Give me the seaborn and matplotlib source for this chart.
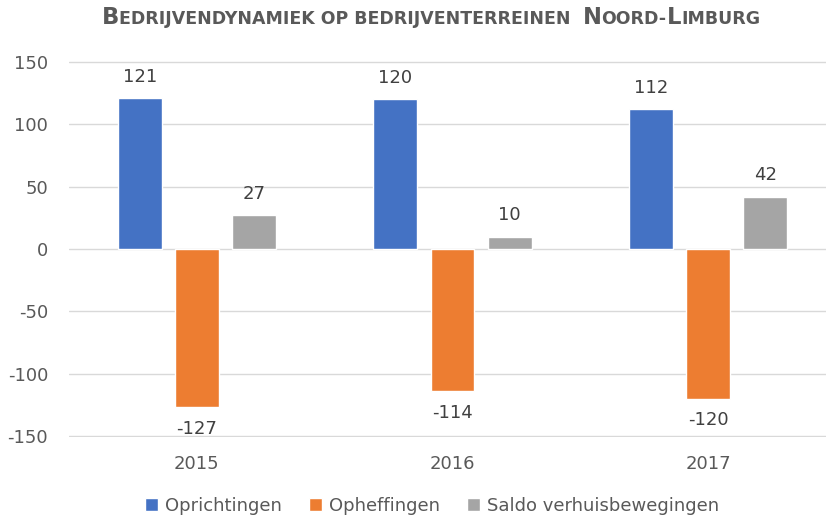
import matplotlib
matplotlib.use("Agg")
import matplotlib.pyplot as plt
import seaborn as sns
import pandas as pd
from matplotlib.offsetbox import TextArea, HPacker, AnchoredOffsetbox

years = ["2015", "2016", "2017"]
series = ["Oprichtingen", "Opheffingen", "Saldo verhuisbewegingen"]
oprichtingen = [121, 120, 112]
opheffingen = [-127, -114, -120]
saldo = [27, 10, 42]
colors = ["#4472C4", "#ED7D31", "#A5A5A5"]
yticks = [-150, -100, -50, 0, 50, 100, 150]

rows = []
for s, vals in zip(series, [oprichtingen, opheffingen, saldo]):
    for y, v in zip(years, vals):
        rows.append({"Jaar": y, "Reeks": s, "Aantal": v})
df = pd.DataFrame(rows)

sns.set_theme(style="white")
plt.rcParams["font.family"] = ["DejaVu Sans"]

fig = plt.figure(figsize=(8.26, 5.18), dpi=100)
ax = fig.add_axes([69/826, (518-437)/518, (836-69)/826, (437-61)/518])

sns.barplot(data=df, x="Jaar", y="Aantal", hue="Reeks", hue_order=series,
            palette=colors, width=0.67, gap=0.23, errorbar=None, ax=ax,
            saturation=1)

ax.set_ylim(-150.8, 150.8)
ax.set_yticks(yticks)
ax.set_yticklabels([str(t) for t in yticks])
ax.set_xlabel("")
ax.set_ylabel("")
for sp in ax.spines.values():
    sp.set_visible(False)
ax.grid(axis="y", color="#D9D9D9", linewidth=1)
ax.set_axisbelow(True)
ax.tick_params(axis="y", length=0, pad=15, labelsize=13, labelcolor="#595959")
ax.tick_params(axis="x", length=0, pad=13, labelsize=13, labelcolor="#595959")
ax.set_xlim(-0.5, 2.5)

for cont in ax.containers:
    ax.bar_label(cont, fmt="%d", padding=9, fontsize=13, color="#404040")

sns.move_legend(ax, "lower center", bbox_to_anchor=(432/826, -0.025),
                bbox_transform=fig.transFigure, ncol=3, frameon=False,
                title=None, fontsize=13, handlelength=0.7, handleheight=0.7,
                handletextpad=0.4, columnspacing=1.5)
for t in ax.get_legend().get_texts():
    t.set_color("#595959")

# small-caps title
big, small = 16.3, 12.5
parts = [("B", big), ("EDRIJVENDYNAMIEK OP BEDRIJVENTERREINEN  ", small),
         ("N", big), ("OORD-", small), ("L", big), ("IMBURG", small)]
areas = [TextArea(t, textprops=dict(fontsize=s, fontweight="bold", color="#595959",
                                    family="DejaVu Sans"))
         for t, s in parts]
box = HPacker(children=areas, align="baseline", pad=0, sep=0)
ab = AnchoredOffsetbox(loc="center", child=box, pad=0, frameon=False,
                       bbox_to_anchor=(431/826, 1 - 18/518),
                       bbox_transform=fig.transFigure, borderpad=0)
fig.add_artist(ab)

fig.savefig("out.png", dpi=100)
